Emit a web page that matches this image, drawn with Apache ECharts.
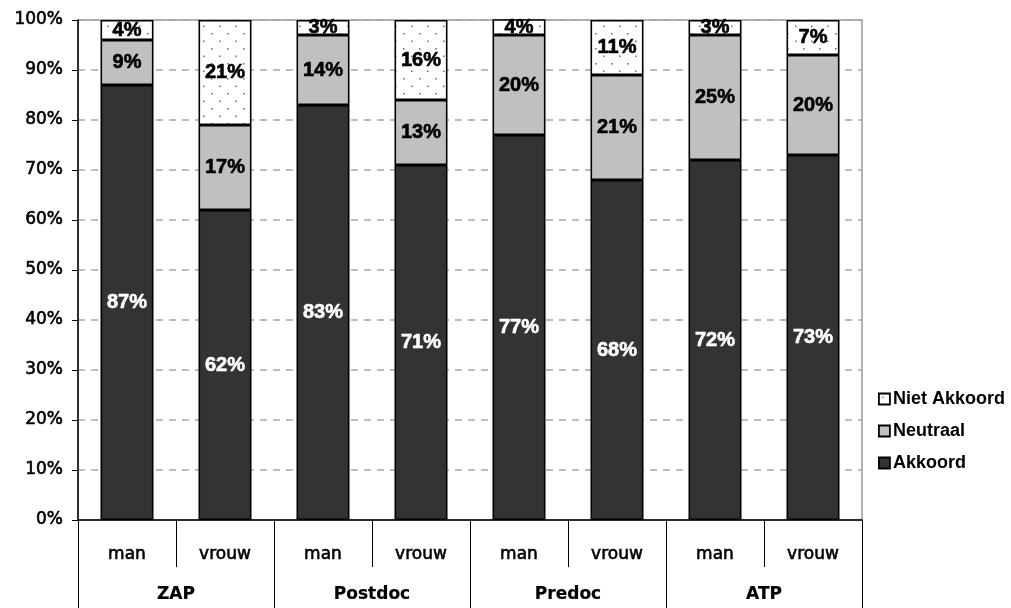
<!DOCTYPE html>
<html>
<head>
<meta charset="utf-8">
<script src="https://cdn.jsdelivr.net/npm/echarts@6/dist/echarts.min.js"></script>
<style>
  html, body { margin: 0; padding: 0; background: #fff; }
  #chart { width: 1011px; height: 608px; }
</style>
</head>
<body>
<div id="chart"></div>
<script>
// Answers per staff group and gender (percent)
const groups = ['ZAP', 'Postdoc', 'Predoc', 'ATP'];
const genders = ['man', 'vrouw', 'man', 'vrouw', 'man', 'vrouw', 'man', 'vrouw'];
const akkoord = [87, 62, 83, 71, 77, 68, 72, 73];
const neutraal = [9, 17, 14, 13, 20, 21, 25, 20];
const nietAkkoord = [4, 21, 3, 16, 4, 11, 3, 7];
const yTicks = [0, 10, 20, 30, 40, 50, 60, 70, 80, 90, 100];

// dotted fill for "Niet Akkoord"
function dotPattern() {
  const c = document.createElement('canvas');
  c.width = 16; c.height = 15;
  const g = c.getContext('2d');
  g.fillStyle = '#ffffff';
  g.fillRect(0, 0, 16, 15);
  g.fillStyle = '#777777';
  g.fillRect(3, 3, 1.6, 1.6);
  g.fillRect(11, 10.5, 1.6, 1.6);
  return c;
}

const chart = echarts.init(document.getElementById('chart'), null, { renderer: 'canvas' });

const baseFont = 'DejaVu Sans';
// medium-weight axis text: regular face with a thin outline
const axisText = { color: '#000', fontFamily: baseFont, fontSize: 17, textBorderColor: '#000', textBorderWidth: 0.6 };
const labelFont = { fontFamily: 'Liberation Sans', fontWeight: 'bold', fontSize: 20, textBorderWidth: 0.6 };

function seriesFor(name, data, color, textColor) {
  return {
    name: name,
    type: 'bar',
    stack: 'total',
    data: data,
    barWidth: 53,
    clip: true,
    itemStyle: { color: color, borderColor: '#000', borderWidth: 1.6 },
    label: {
      show: true,
      position: 'inside',
      formatter: p => p.value + '%',
      color: textColor,
      textBorderColor: textColor,
      ...labelFont
    },
    emphasis: { disabled: true }
  };
}

chart.setOption({
  animation: false,
  grid: {
    left: 78, right: 149, top: 20, bottom: 88,
    show: true, borderColor: '#999', borderWidth: 1.5, backgroundColor: 'transparent'
  },
  legend: {
    orient: 'vertical',
    left: 873,
    top: 384,
    itemWidth: 11,
    itemHeight: 11,
    itemGap: 12,
    icon: 'rect',
    data: ['Niet Akkoord', 'Neutraal', 'Akkoord'],
    itemStyle: { borderColor: '#000', borderWidth: 1.8 },
    textStyle: { fontFamily: 'Liberation Sans', fontWeight: 'bold', fontSize: 18, color: '#000', lineHeight: 20, padding: [0, 0, 0, -2] }
  },
  xAxis: [
    {
      type: 'category',
      data: genders,
      position: 'bottom',
      axisLine: { show: true, lineStyle: { color: '#000', width: 1.5 } },
      axisTick: { show: true, interval: 0, length: 47, lineStyle: { color: '#000', width: 1 } },
      axisLabel: { interval: 0, margin: 26, ...axisText }
    },
    {
      type: 'category',
      data: groups,
      position: 'bottom',
      axisLine: { show: false },
      axisTick: { show: true, interval: 0, length: 90, lineStyle: { color: '#000', width: 1 } },
      axisLabel: { interval: 0, margin: 66, ...axisText, fontWeight: 'bold', textBorderWidth: 0.2 }
    }
  ],
  yAxis: {
    type: 'value',
    min: yTicks[0],
    max: yTicks[yTicks.length - 1],
    interval: 10,
    axisLine: { show: true, lineStyle: { color: '#000', width: 1.5 } },
    axisTick: { show: true, length: 6, lineStyle: { color: '#000' } },
    axisLabel: { formatter: '{value}%', margin: 15, ...axisText },
    splitLine: { show: true, lineStyle: { color: '#a8a8a8', width: 1.5, type: [7, 6] } }
  },
  series: [
    seriesFor('Akkoord', akkoord, '#333333', '#ffffff'),
    seriesFor('Neutraal', neutraal, '#c0c0c0', '#000000'),
    seriesFor('Niet Akkoord', nietAkkoord, { image: dotPattern(), repeat: 'repeat' }, '#000000')
  ]
});
</script>
</body>
</html>
